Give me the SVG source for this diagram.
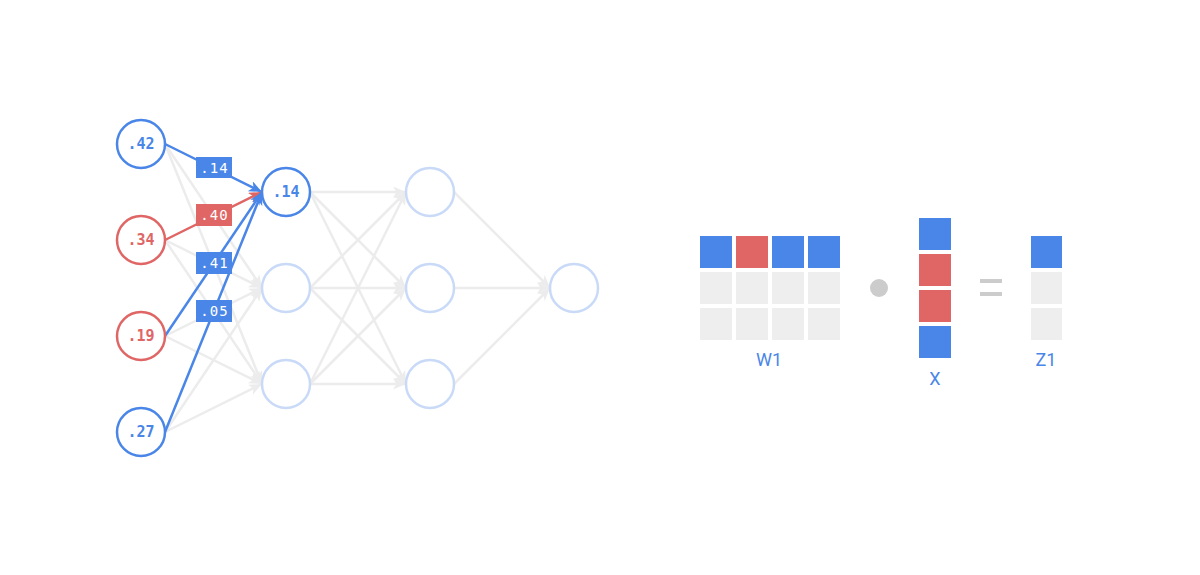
<svg xmlns="http://www.w3.org/2000/svg" width="1200" height="575" viewBox="0 0 1200 575">
<style>
.g{stroke:#ececec;stroke-width:2.5;fill:none}
.b{stroke:#4a86e8;stroke-width:2.5;fill:none}
.r{stroke:#e06666;stroke-width:2.5;fill:none}
.nb{fill:#fff;stroke:#4a86e8;stroke-width:2.5}
.nr{fill:#fff;stroke:#e06666;stroke-width:2.5}
.nl{fill:#fff;stroke:#c9daf8;stroke-width:2.5}
.t{font-family:"DejaVu Sans Mono","Liberation Mono",monospace;font-size:15px;font-weight:bold;text-anchor:middle}
.tb{fill:#4a86e8}.tr{fill:#e06666}
.lt{font-family:"DejaVu Sans Mono","Liberation Mono",monospace;font-size:14px;fill:#fff;text-anchor:middle;letter-spacing:1px}
.lab{font-family:Roboto,"Liberation Sans",sans-serif;font-size:18px;fill:#4a86e8;text-anchor:middle}
.cb{fill:#4a86e8}.cr{fill:#e06666}.cg{fill:#eeeeee}
</style>
<defs>
<marker id="ag" markerUnits="userSpaceOnUse" markerWidth="15" markerHeight="12" refX="13" refY="5.5" orient="auto"><path d="M0,0 L13,5.5 L0,11 L3.5,5.5 z" fill="#ececec"/></marker>
<marker id="ab" markerUnits="userSpaceOnUse" markerWidth="15" markerHeight="12" refX="13" refY="5.5" orient="auto"><path d="M0,0 L13,5.5 L0,11 L3.5,5.5 z" fill="#4a86e8"/></marker>
<marker id="ar" markerUnits="userSpaceOnUse" markerWidth="15" markerHeight="12" refX="13" refY="5.5" orient="auto"><path d="M0,0 L13,5.5 L0,11 L3.5,5.5 z" fill="#e06666"/></marker>
</defs>
<g id="connectors">
<g class="g" marker-end="url(#ag)">
<line x1="165" y1="144" x2="262" y2="288"/><line x1="165" y1="144" x2="262" y2="384"/>
<line x1="165" y1="240" x2="262" y2="288"/><line x1="165" y1="240" x2="262" y2="384"/>
<line x1="165" y1="336" x2="262" y2="288"/><line x1="165" y1="336" x2="262" y2="384"/>
<line x1="165" y1="432" x2="262" y2="288"/><line x1="165" y1="432" x2="262" y2="384"/>
<line x1="310" y1="192" x2="406" y2="192"/><line x1="310" y1="192" x2="406" y2="288"/><line x1="310" y1="192" x2="406" y2="384"/>
<line x1="310" y1="288" x2="406" y2="192"/><line x1="310" y1="288" x2="406" y2="288"/><line x1="310" y1="288" x2="406" y2="384"/>
<line x1="310" y1="384" x2="406" y2="192"/><line x1="310" y1="384" x2="406" y2="288"/><line x1="310" y1="384" x2="406" y2="384"/>
<line x1="454" y1="192" x2="550" y2="288"/><line x1="454" y1="288" x2="550" y2="288"/><line x1="454" y1="384" x2="550" y2="288"/>
</g>
<line class="b" x1="165" y1="144" x2="262" y2="192" marker-end="url(#ab)"/>
<line class="r" x1="165" y1="240" x2="262" y2="192" marker-end="url(#ar)"/>
<line class="b" x1="165" y1="336" x2="262" y2="192" marker-end="url(#ab)"/>
<line class="b" x1="165" y1="432" x2="262" y2="192" marker-end="url(#ab)"/>
<g id="w1"><rect x="196" y="157" width="36" height="21" class="cb"/><text class="lt" x="214.5" y="172.5">.14</text></g>
<g id="w2"><rect x="196" y="204" width="36" height="22" class="cr"/><text class="lt" x="214.5" y="220">.40</text></g>
<g id="w3"><rect x="196" y="252" width="36" height="22" class="cb"/><text class="lt" x="214.5" y="268">.41</text></g>
<g id="w4"><rect x="196" y="300" width="36" height="22" class="cb"/><text class="lt" x="214.5" y="316">.05</text></g>
</g>
<g id="in1"><circle cx="141" cy="144" r="24" class="nb"/><text class="t tb" x="141" y="149">.42</text></g>
<g id="in2"><circle cx="141" cy="240" r="24" class="nr"/><text class="t tr" x="141" y="245">.34</text></g>
<g id="in3"><circle cx="141" cy="336" r="24" class="nr"/><text class="t tr" x="141" y="341">.19</text></g>
<g id="in4"><circle cx="141" cy="432" r="24" class="nb"/><text class="t tb" x="141" y="437">.27</text></g>
<g id="h1"><circle cx="286" cy="192" r="24" class="nb"/><text class="t tb" x="286" y="197">.14</text></g>
<g id="h2"><circle cx="286" cy="288" r="24" class="nl"/></g>
<g id="h3"><circle cx="286" cy="384" r="24" class="nl"/></g>
<g id="h4"><circle cx="430" cy="192" r="24" class="nl"/></g>
<g id="h5"><circle cx="430" cy="288" r="24" class="nl"/></g>
<g id="h6"><circle cx="430" cy="384" r="24" class="nl"/></g>
<g id="out"><circle cx="574" cy="288" r="24" class="nl"/></g>
<g id="W1">
<rect x="700" y="236" width="32" height="32" class="cb"/><rect x="736" y="236" width="32" height="32" class="cr"/><rect x="772" y="236" width="32" height="32" class="cb"/><rect x="808" y="236" width="32" height="32" class="cb"/>
<rect x="700" y="272" width="32" height="32" class="cg"/><rect x="736" y="272" width="32" height="32" class="cg"/><rect x="772" y="272" width="32" height="32" class="cg"/><rect x="808" y="272" width="32" height="32" class="cg"/>
<rect x="700" y="308" width="32" height="32" class="cg"/><rect x="736" y="308" width="32" height="32" class="cg"/><rect x="772" y="308" width="32" height="32" class="cg"/><rect x="808" y="308" width="32" height="32" class="cg"/>
<text class="lab" x="769" y="366">W1</text>
</g>
<g id="dot"><circle cx="879" cy="288" r="9" fill="#cccccc"/></g>
<g id="X">
<rect x="919" y="218" width="32" height="32" class="cb"/><rect x="919" y="254" width="32" height="32" class="cr"/><rect x="919" y="290" width="32" height="32" class="cr"/><rect x="919" y="326" width="32" height="32" class="cb"/>
<text class="lab" x="935" y="385">X</text>
</g>
<g id="eq"><rect x="980" y="279" width="22" height="4" fill="#cccccc"/><rect x="980" y="292" width="22" height="4" fill="#cccccc"/></g>
<g id="Z1">
<rect x="1031" y="236" width="31" height="32" class="cb"/><rect x="1031" y="272" width="31" height="32" class="cg"/><rect x="1031" y="308" width="31" height="32" class="cg"/>
<text class="lab" x="1046" y="366">Z1</text>
</g>
</svg>
